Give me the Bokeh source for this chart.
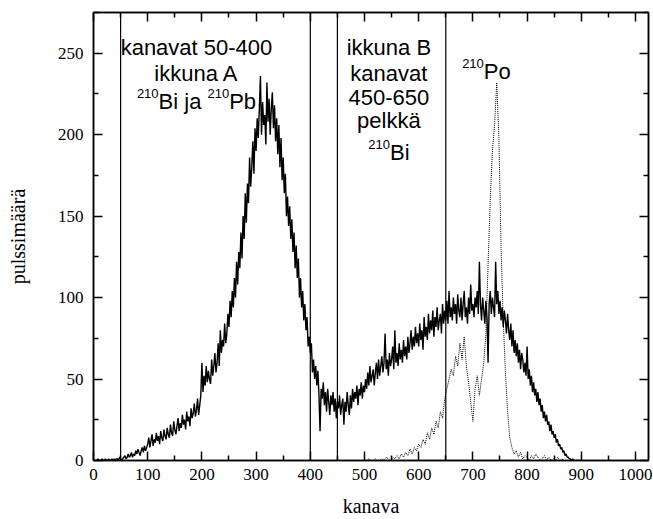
from bokeh.plotting import figure
from bokeh.models import LinearAxis, Span, FixedTicker, ColumnDataSource, Range1d
from bokeh.core.properties import value
from bokeh.embed import file_html
from bokeh.resources import INLINE

# ---- data -------------------------------------------------------------
# total spectrum (210Bi + 210Pb + 210Po), counts every 2nd channel from 0
total_start, total_step = 0, 2
total_counts = [
    # 0-98
    0, 0, 0, 0, 1, 0, 0, 0, 1, 0, 0, 1, 0, 0, 1, 0, 0, 1, 0, 1,
    0, 1, 1, 0, 2, 1, 0, 1, 2, 3, 1, 2, 4, 2, 3, 5, 2, 4, 3, 6,
    4, 7, 5, 3, 6, 8, 5, 9, 6, 8,
    # 100-198
    10, 14, 8, 12, 16, 9, 13, 11, 17, 12, 15, 10, 18, 14, 12, 19, 15, 13, 20, 16,
    14, 22, 17, 15, 24, 19, 16, 21, 26, 18, 23, 20, 28, 22, 25, 19, 30, 24, 27, 21,
    32, 26, 29, 35, 27, 31, 38, 28, 34, 40,
    # 200-298
    60, 42, 52, 46, 58, 48, 55, 50, 47, 62, 52, 58, 66, 54, 60, 72, 58, 80, 66, 74,
    70, 84, 72, 78, 90, 82, 98, 88, 104, 94, 112, 100, 122, 108, 128, 118, 140, 124, 150, 136,
    164, 146, 170, 158, 186, 168, 180, 196, 176, 204,
    # 300-398
    190, 210, 198, 216, 236, 200, 220, 206, 212, 194, 232, 208, 222, 200, 216, 226, 204, 218, 196, 210,
    188, 206, 180, 198, 172, 186, 164, 176, 150, 162, 144, 156, 136, 148, 128, 140, 118, 132, 112, 124,
    100, 112, 94, 104, 86, 96, 80, 88, 70, 76,
    # 400-498
    66, 72, 54, 62, 50, 58, 46, 55, 40, 18, 44, 38, 48, 34, 42, 30, 44, 36, 28, 40,
    34, 42, 30, 38, 26, 36, 32, 40, 28, 34, 38, 22, 36, 30, 42, 34, 28, 40, 32, 44,
    36, 42, 38, 46, 34, 44, 40, 48, 38, 46,
    # 500-598
    42, 50, 44, 54, 46, 58, 48, 52, 56, 46, 54, 60, 50, 62, 52, 58, 64, 54, 60, 78,
    56, 62, 52, 66, 58, 62, 70, 56, 80, 60, 66, 58, 72, 62, 68, 60, 74, 64, 70, 62,
    76, 66, 72, 80, 68, 76, 70, 82, 72, 78,
    # 600-698
    70, 84, 74, 80, 68, 88, 76, 82, 74, 90, 78, 86, 80, 92, 76, 88, 82, 94, 80, 86,
    90, 78, 96, 84, 92, 86, 98, 84, 104, 88, 94, 86, 100, 90, 96, 84, 102, 92, 88, 100,
    86, 96, 104, 88, 94, 84, 100, 90, 108, 92,
    # 700-798
    96, 88, 100, 94, 104, 90, 122, 96, 86, 100, 92, 84, 98, 88, 60, 96, 104, 90, 100, 94,
    88, 122, 96, 104, 90, 98, 86, 94, 82, 92, 86, 78, 90, 80, 74, 84, 70, 80, 66, 74,
    64, 72, 60, 68, 56, 66, 62, 54, 60, 52,
    # 800-898
    70, 50, 56, 46, 52, 42, 48, 40, 44, 36, 42, 34, 38, 30, 34, 26, 30, 24, 28, 22,
    24, 18, 22, 16, 18, 14, 16, 11, 13, 9, 10, 7, 8, 5, 6, 3, 4, 2, 2, 1,
    1, 0, 1, 0, 0, 0, 0, 0, 0, 0,
    # 900
    0,
]

# 210Po alpha peak, counts every 4th channel from 500
po_start, po_step = 500, 4
po_counts = [
    0, 0, 1, 0, 0, 1, 0, 0, 1, 0, 2, 1, 0, 2, 1,
    3, 1, 4, 2, 5, 3, 7, 4, 8, 6,
    10, 8, 13, 10, 17, 13, 20, 16, 24, 20, 30, 26, 38, 44, 50, 56, 52, 64, 58, 72, 62, 76, 58, 48, 36,
    24, 44, 52, 40, 50, 60, 78, 120, 160, 190, 206, 232, 198, 130, 86, 54, 30, 14, 8, 4, 6, 2, 5, 1, 3,
    2, 0, 3, 1, 4, 2, 0, 1, 3, 0, 2, 0, 1, 0, 2, 0, 1, 0, 0,
]

total_channels = [total_start + total_step * i for i in range(len(total_counts))]
po_channels = [po_start + po_step * i for i in range(len(po_counts))]

# channel windows
window_edges = [50, 400, 450, 650]

# axis ticks
x_ticks = [0, 100, 200, 300, 400, 500, 600, 700, 800, 900, 1000]
x_minor = [50, 150, 250, 350, 450, 550, 650, 750, 850, 950]
y_ticks = [0, 50, 100, 150, 200, 250]
y_minor = [25, 75, 125, 175, 225, 275]

# ---- figure -----------------------------------------------------------
p = figure(width=653, height=519, output_backend="svg", toolbar_location=None,
           x_range=Range1d(0, 1024), y_range=Range1d(0, 275),
           x_axis_label="kanava", y_axis_label="pulssimäärä",
           min_border_left=93, min_border_right=5,
           min_border_top=12, min_border_bottom=58)
p.background_fill_color = "white"
p.border_fill_color = "white"
p.grid.visible = False
p.outline_line_color = "black"
p.outline_line_width = 1.5

serif = "Liberation Serif"


def style_axis(ax, show_labels):
    ax.axis_line_color = "black"
    ax.axis_line_width = 1.5
    ax.major_tick_line_color = "black"
    ax.major_tick_line_width = 1.5
    ax.minor_tick_line_color = "black"
    ax.minor_tick_line_width = 1.5
    ax.major_tick_in = 9
    ax.major_tick_out = 0
    ax.minor_tick_in = 5
    ax.minor_tick_out = 0
    ax.major_label_text_font = serif
    if show_labels:
        ax.major_label_text_font_size = "17px"
        ax.major_label_text_color = "black"
    else:
        # tick marks only, no numbers on the mirrored axes
        ax.major_label_text_font_size = "1px"
        ax.major_label_text_color = None
        ax.major_label_standoff = 0


xt = FixedTicker(ticks=x_ticks, minor_ticks=x_minor)
yt = FixedTicker(ticks=y_ticks, minor_ticks=y_minor)

p.xaxis.ticker = xt
p.yaxis.ticker = yt
for ax in p.xaxis + p.yaxis:
    style_axis(ax, True)
    ax.axis_label_text_font = serif
    ax.axis_label_text_font_size = "20px"
    ax.axis_label_text_font_style = "normal"
    ax.axis_label_text_color = "black"
p.xaxis.major_label_standoff = 8
p.xaxis.axis_label_standoff = 12
p.yaxis.major_label_standoff = 10
p.yaxis.axis_label_standoff = 26

top = LinearAxis(ticker=xt)
style_axis(top, False)
p.add_layout(top, "above")
right = LinearAxis(ticker=yt)
style_axis(right, False)
p.add_layout(right, "right")

# window boundaries
for edge in window_edges:
    p.add_layout(Span(location=edge, dimension="height",
                      line_color="black", line_width=1.2))

# spectra
p.line(po_channels, po_counts, line_color="black", line_width=1,
       line_dash="1 1")
p.line(total_channels, total_counts, line_color="black", line_width=1.4)

# ---- annotations ------------------------------------------------------
sans = value("Liberation Sans")

plain = ColumnDataSource(dict(
    x=[190, 190, 545, 545, 545, 545],
    y=[253.3, 237.5, 253.5, 237.5, 222.8, 208.5],
    text=["kanavat 50-400", "ikkuna A", "ikkuna B", "kanavat", "450-650", "pelkkä"],
))
p.text(x="x", y="y", text="text", source=plain, text_font=sans,
       text_font_size=value("22px"), text_align="center",
       text_baseline="alphabetic", text_color="black")

# nuclide symbols with mass-number superscripts
symbols = ColumnDataSource(dict(
    x=[190, 190, 545, 725],
    y=[220.1, 220.1, 188.8, 238.5],
    dx=[-37.9, 32.7, 1.1, -2.6],
    text=["Bi ja ", "Pb", "Bi", "Po"],
))
p.text(x="x", y="y", text="text", x_offset="dx", source=symbols,
       text_font=sans, text_font_size=value("22px"), text_align="left",
       text_baseline="alphabetic", text_color="black")

mass = ColumnDataSource(dict(
    x=[190, 190, 545, 725],
    y=[220.1, 220.1, 188.8, 238.5],
    dx=[-59.6, 11.0, -20.6, -24.3],
    text=["210", "210", "210", "210"],
))
p.text(x="x", y="y", text="text", x_offset="dx", y_offset=-8.4, source=mass,
       text_font=sans, text_font_size=value("13px"), text_align="left",
       text_baseline="alphabetic", text_color="black")

open("out.html", "w").write(file_html(p, INLINE))
